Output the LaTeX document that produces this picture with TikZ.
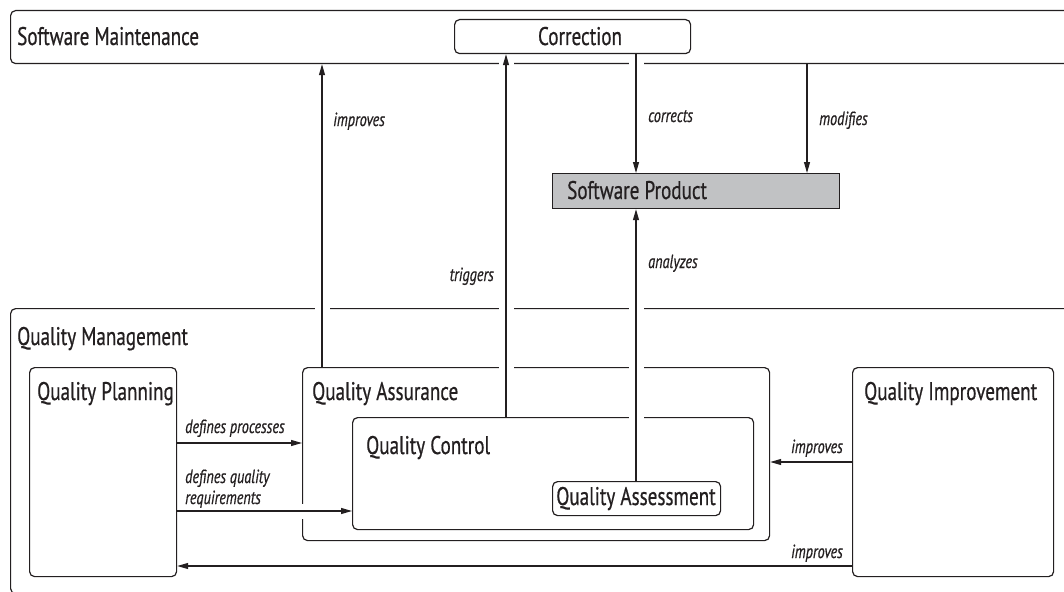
\documentclass[tikz,border=0pt]{standalone}
\usepackage{fontspec}
\setmainfont{PT Sans}[FakeStretch=0.75, FakeBold=0.6]
\usetikzlibrary{arrows.meta}
\definecolor{ink}{HTML}{231F20}
\definecolor{prodgray}{HTML}{C1C2C4}
\newcommand\boxfont{\fontsize{25.5}{28}\selectfont}
\newcommand\linkfont{\fontsize{19}{21}\selectfont\itshape}
\tikzset{
  box/.style={draw=ink, line width=1.2pt, rounded corners=5pt, inner sep=0pt, anchor=north west},
  title/.style={anchor=base west, inner sep=0pt, font=\boxfont, text=ink},
  lbl/.style={anchor=base west, inner sep=0pt, font=\linkfont, text=ink},
  arr/.style={draw=ink, line width=1.1pt, -{Triangle[length=11pt,width=6pt]}},
  gap/.style={draw=white, line width=15pt},
}
\begin{document}
\begin{tikzpicture}[x=1pt,y=-1pt]
\useasboundingbox (0,0) rectangle (1064,591);
\clip (0,0) rectangle (1064,591);

% outer areas
\node[box, minimum width=1080pt, minimum height=53pt] (sm) at (10,10) {};
\node[box, minimum width=1080pt, minimum height=285pt] (qm) at (10,308) {};

% top row
\node[box, minimum width=236pt, minimum height=34pt] (corr) at (454,19) {};
\node[box, fill=prodgray, rounded corners=0pt, minimum width=287pt, minimum height=35pt] (prod) at (552,173) {};

% quality management parts
\node[box, minimum width=147pt, minimum height=209pt] (qp) at (29,367) {};
\node[box, minimum width=467pt, minimum height=173pt] (qa) at (302,367) {};
\node[box, minimum width=401pt, minimum height=112pt] (qc) at (352,417) {};
\node[box, minimum width=168pt, minimum height=34pt] (qas) at (552,481) {};
\node[box, minimum width=201pt, minimum height=209pt] (qi) at (852,367) {};

% titles
\node[title] (tsm) at (17,45) {Software Maintenance};
\node[title, anchor=base] (tcorr) at (580,45) {Correction};
\node[title] (tprod) at (567,199) {Software Product};
\node[title] (tqm) at (17,345) {Quality Management};
\node[title] (tqp) at (37,400) {Quality Planning};
\node[title] (tqa) at (312,400) {Quality Assurance};
\node[title] (tqc) at (366,454) {Quality Control};
\node[title, anchor=base] (tqas) at (636,505) {Quality Assessment};
\node[title] (tqi) at (864,400) {Quality Improvement};

% connector lanes
\coordinate (xImp) at (322,0);
\coordinate (xTrg) at (506,0);
\coordinate (xAna) at (636,0);
\coordinate (xMod) at (807,0);
\coordinate (yDP) at (0,443);
\coordinate (yDQ) at (0,511);
\coordinate (yIA) at (0,462);
\coordinate (yIP) at (0,566);

% white breaks where connectors cross box borders
\draw[gap] ([yshift=2pt]qa.north -| xImp) -- ([yshift=-3pt]sm.south -| xImp);
\draw[gap] ([yshift=2pt]qc.north -| xTrg) -- ([yshift=-2pt]corr.south -| xTrg);
\draw[gap] ([yshift=-2pt]corr.south -| xAna) -- ([yshift=3pt]prod.north -| xAna);
\draw[gap] ([yshift=2pt]qas.north -| xAna) -- ([yshift=-3pt]prod.south -| xAna);
\draw[gap] ([xshift=2pt]qp.east |- yDQ) -- ([xshift=-3pt]qc.west |- yDQ);

% connectors
\draw[arr] (qa.north -| xImp) -- (sm.south -| xImp);
\draw[arr] (qc.north -| xTrg) -- (corr.south -| xTrg);
\draw[arr] (corr.south -| xAna) -- (prod.north -| xAna);
\draw[arr] (sm.south -| xMod) -- (prod.north -| xMod);
\draw[arr] (qas.north -| xAna) -- (prod.south -| xAna);
\draw[arr] (qp.east |- yDP) -- (qa.west |- yDP);
\draw[arr] (qp.east |- yDQ) -- (qc.west |- yDQ);
\draw[arr] (qi.west |- yIA) -- (qa.east |- yIA);
\draw[arr] (qi.west |- yIP) -- (qp.east |- yIP);

% connector labels
\node[lbl] (limp) at (333,126) {improves};
\node[lbl, anchor=base east] (ltrg) at (494,281) {triggers};
\node[lbl] (lcor) at (648,122) {corrects};
\node[lbl] (lmod) at (819,125) {modifies};
\node[lbl] (lana) at (648,268) {analyzes};
\node[lbl] (ldp) at (185,433) {defines processes};
\node[lbl] (ldq) at (185,483) {defines quality};
\node[lbl] (ldr) at (185,504) {requirements};
\node[lbl, anchor=base east] (lia) at (843,453) {improves};
\node[lbl, anchor=base east] (lip) at (843,558) {improves};
\end{tikzpicture}
\end{document}
